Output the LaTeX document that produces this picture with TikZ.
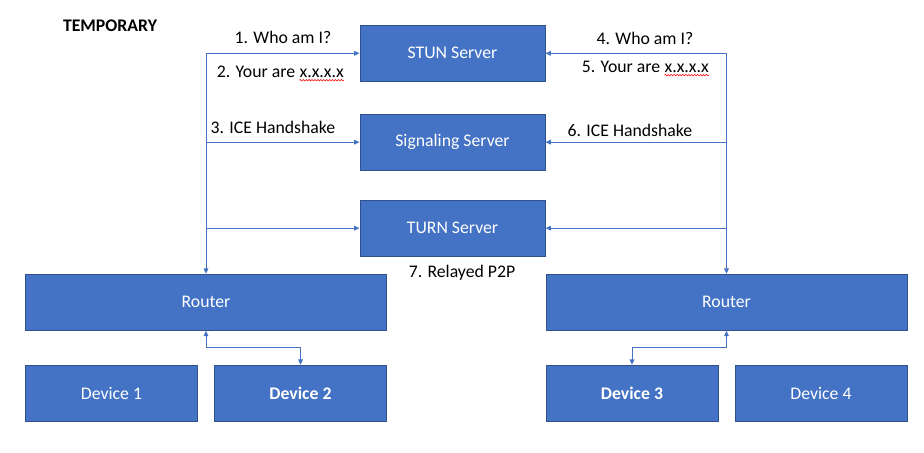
\documentclass[tikz,border=0pt]{standalone}
\usepackage{fontspec}
\setmainfont{Carlito}
\usepackage{xcolor}
\usetikzlibrary{arrows.meta,positioning,decorations.pathmorphing}
\definecolor{boxblue}{HTML}{4472C4}
\definecolor{boxedge}{HTML}{2F528F}

\begin{document}
\begin{tikzpicture}[
  x=0.75pt, y=-0.75pt,
  every node/.style={font=\fontsize{13.3}{16}\selectfont},
  srv/.style={draw=boxedge, fill=boxblue, text=white, line width=0.75pt,
    minimum width=138.75pt, minimum height=42pt, inner sep=0pt},
  rtr/.style={srv, minimum width=270.75pt},
  dev/.style={srv, minimum width=129pt},
  lbl/.style={inner sep=0pt},
  arr/.style={-{Triangle[length=4pt, width=3.5pt]}, draw=boxblue, line width=0.75pt},
  arr2/.style={arr, {Triangle[length=4pt, width=3.5pt]}-{Triangle[length=4pt, width=3.5pt]}},
  spell/.style={draw=red, line width=0.4pt, decorate,
    decoration={snake, amplitude=0.55pt, segment length=2.2pt}}
]
  \useasboundingbox (0,0) rectangle (924,453);

  \node[lbl, font=\fontsize{13.3}{16}\selectfont\bfseries] (temp) at (110,26) {TEMPORARY};

  \node[srv] (stun) at (452.5,53.3) {STUN Server};
  \node[srv, below=23.9pt of stun] (sig) {Signaling Server};
  \node[srv, below=21.75pt of sig] (turn) {TURN Server};

  \node[rtr] (routerL) at (206,302.3) {Router};
  \node[rtr] (routerR) at (726.5,302.3) {Router};
  \node[dev, below right=25.5pt and 0pt of routerL.south west] (dev1) {Device 1};
  \node[dev, below left=25.5pt and 0pt of routerL.south east] (dev2) {\textbf{Device 2}};
  \node[dev, below right=25.5pt and 0pt of routerR.south west] (dev3) {\textbf{Device 3}};
  \node[dev, below left=25.5pt and 0pt of routerR.south east] (dev4) {Device 4};

  % step labels
  \node[lbl] (who1) at (283,37) {1. Who am I?};
  \node[lbl] (you1) at (256,72) {2. Your are};
  \node[lbl, anchor=base west, xshift=3pt] (ip1) at (you1.base east) {x.x.x.x};
  \node[lbl] (ice1) at (273,127) {3. ICE Handshake};
  \node[lbl] (who2) at (645,38) {4. Who am I?};
  \node[lbl] (you2) at (621,67) {5. Your are};
  \node[lbl, anchor=base west, xshift=3pt] (ip2) at (you2.base east) {x.x.x.x};
  \node[lbl] (ice2) at (630,130) {6. ICE Handshake};
  \node[lbl] (relay) at (462,273) {7. Relayed P2P};

  \draw[spell] ([yshift=-1.6pt]ip1.south west) -- ([yshift=-1.6pt]ip1.south east);
  \draw[spell] ([yshift=-1.6pt]ip2.south west) -- ([yshift=-1.6pt]ip2.south east);

  \coordinate (hubL) at (routerL.north |- stun.west);
  \coordinate (hubR) at (routerR.north |- stun.east);

  \draw[arr] (hubL) -- (stun.west);
  \draw[arr] (hubL |- sig.west) -- (sig.west);
  \draw[arr] (hubL |- turn.west) -- (turn.west);
  \draw[arr] (hubL) -- (routerL.north);

  \draw[arr] (hubR) -- (stun.east);
  \draw[arr] (hubR |- sig.east) -- (sig.east);
  \draw[arr] (hubR |- turn.east) -- (turn.east);
  \draw[arr] (hubR) -- (routerR.north);

  \draw[arr2] (routerL.south) -- ++(0,16.8) -| (dev2.north);
  \draw[arr2] (routerR.south) -- ++(0,16.8) -| (dev3.north);
\end{tikzpicture}
\end{document}
